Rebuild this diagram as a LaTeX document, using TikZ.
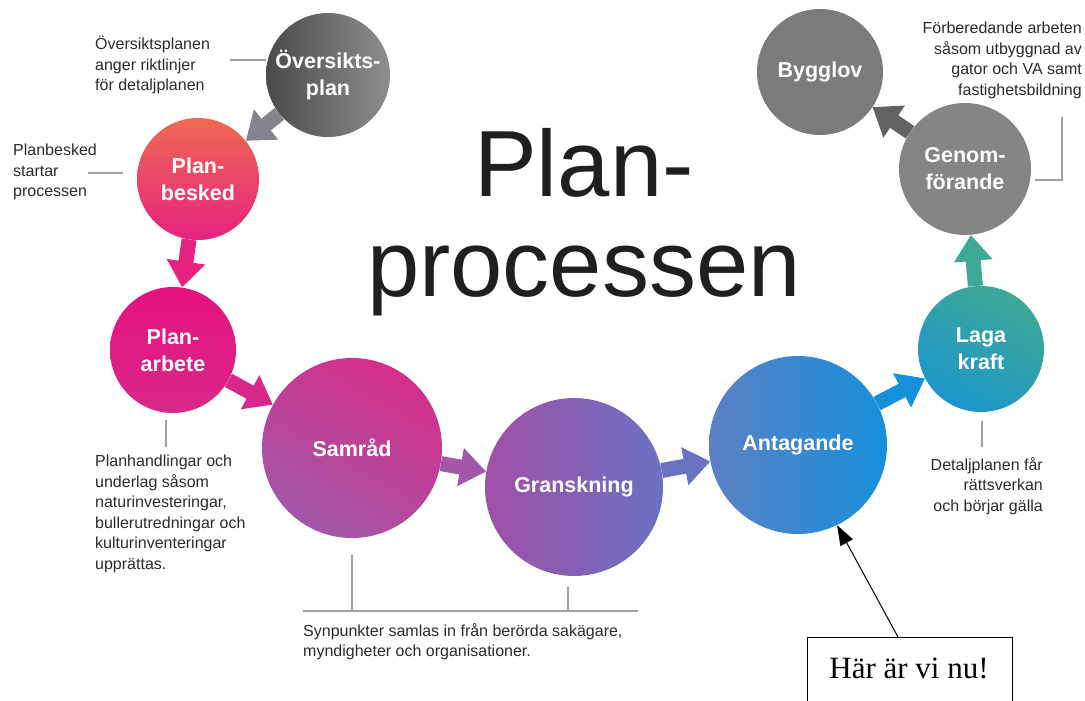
\documentclass[tikz,border=0pt]{standalone}
\usepackage{fontspec}
\setmainfont{Liberation Sans}
\newfontfamily\boxserif{Liberation Serif}
\usetikzlibrary{arrows.meta}

\definecolor{ovA}{HTML}{4A4A4A}
\definecolor{ovB}{HTML}{8E8E8E}
\definecolor{pbA}{HTML}{EE6A52}
\definecolor{pbB}{HTML}{E62280}
\definecolor{paA}{HTML}{E6127E}
\definecolor{paB}{HTML}{D8288A}
\definecolor{saA}{HTML}{D42E8A}
\definecolor{saB}{HTML}{A257A8}
\definecolor{grA}{HTML}{A04FA6}
\definecolor{grB}{HTML}{6A72C2}
\definecolor{anA}{HTML}{5C80C4}
\definecolor{anB}{HTML}{1690DA}
\definecolor{lkA}{HTML}{3EA896}
\definecolor{lkB}{HTML}{1C96CC}
\definecolor{geC}{HTML}{858585}
\definecolor{byC}{HTML}{7C7C7C}
\definecolor{arOv}{HTML}{84848C}
\definecolor{arGe}{HTML}{626262}
\definecolor{noteC}{HTML}{2A2A2A}
\definecolor{leadC}{HTML}{A0A0A0}

\begin{document}
\begin{tikzpicture}[x=1pt,y=-1pt,
  stage/.style={circle, minimum size=#1, inner sep=0pt, text=white,
    font=\fontsize{21.5}{27}\selectfont\bfseries, align=center},
  fat/.style={line width=15pt, draw=#1, fill=#1,
    -{Triangle[width=37pt,length=26pt]}},
  note/.style={font=\fontsize{16}{20.5}\selectfont, text=noteC, inner sep=0pt},
  lead/.style={draw=leadC, line width=1.2pt}]

\useasboundingbox (0,0) rectangle (1085,701);
\clip (0,0) rectangle (1085,701);

% title
\node[font=\fontsize{94}{100}\selectfont, text=black!88, align=center, inner sep=0pt]
  (title) at (584,222) {Plan-\\processen};

% stages of the process
\node[stage=124, left color=ovA, right color=ovB] (ov) at (328,75) {Översikts-\\plan};
\node[stage=122, top color=pbA, bottom color=pbB] (pb) at (198,179) {Plan-\\besked};
\node[stage=126, top color=paA, bottom color=paB] (pa) at (173,350) {Plan-\\arbete};
\node[stage=180, top color=saA, bottom color=saB, shading angle=-30] (sa) at (352,448) {Samråd};
\node[stage=178, left color=grA, right color=grB] (gr) at (574,487) {Granskning};
\node[stage=178, left color=anA, right color=anB] (an) at (798,445) {Antagande};
\node[stage=126, top color=lkA, bottom color=lkB, shading angle=-30] (lk) at (981,349) {Laga\\kraft};
\node[stage=132, fill=geC] (ge) at (965,169) {Genom-\\förande};
\node[stage=126, fill=byC] (by) at (820,72) {Bygglov};

% arrows between the stages
\draw[fat=arOv] (ov) -- (pb);
\draw[fat=pbB] (pb) -- (pa);
\draw[fat=paB] (pa) -- (sa);
\draw[fat=saB] (sa) -- (gr);
\draw[fat=grB] (gr) -- (an);
\draw[fat=anB] (an) -- (lk);
\draw[fat=lkA] (lk) -- (ge);
\draw[fat=arGe] (ge) -- (by);

% notes and their leader lines
\node[note, align=left, anchor=north west] (n1) at (95,36)
  {Översiktsplanen\\anger riktlinjer\\för detaljplanen};
\coordinate (l1a) at (230,60);
\coordinate (l1b) at (266,60);
\draw[lead] (l1a) -- (l1b);

\node[note, align=left, anchor=north west] (n2) at (13,144)
  {Planbesked\\startar\\processen};
\coordinate (l2a) at (88,173);
\coordinate (l2b) at (123,173);
\draw[lead] (l2a) -- (l2b);

\coordinate (l3a) at (166,420);
\coordinate (l3b) at (166,447);
\draw[lead] (l3a) -- (l3b);
\node[note, align=left, anchor=north west] (n3) at (95,455)
  {Planhandlingar och\\underlag såsom\\naturinvesteringar,\\bullerutredningar och\\kulturinventeringar\\upprättas.};

\coordinate (b1) at (352,555);
\coordinate (b2) at (568,587);
\coordinate (bl) at (303,611);
\coordinate (br) at (638,611);
\draw[lead] (bl) -- (br);
\draw[lead] (b1) -- (b1 |- bl);
\draw[lead] (b2) -- (b2 |- bl);
\node[note, align=left, anchor=north west] (n4) at (303,623)
  {Synpunkter samlas in från berörda sakägare,\\myndigheter och organisationer.};

\coordinate (l5a) at (982,421);
\coordinate (l5b) at (982,447);
\draw[lead] (l5a) -- (l5b);
\node[note, align=right, anchor=north east] (n5) at (1043,457)
  {Detaljplanen får\\rättsverkan\\och börjar gälla};

\node[note, align=right, anchor=north east] (n6) at (1082,22)
  {Förberedande arbeten\\såsom utbyggnad av\\gator och VA samt\\fastighetsbildning};
\coordinate (l6a) at (1062,117);
\coordinate (l6b) at (1062,180);
\coordinate (l6c) at (1035,180);
\draw[lead] (l6a) -- (l6b) -- (l6c);

% call-out box pointing at the current stage
\node[draw=black, line width=0.8pt, fill=white, minimum width=205, minimum height=90,
  anchor=north west, inner sep=0pt, text height=0pt] (box) at (807,637) {};
\node[font=\boxserif\fontsize{31}{34}\selectfont, anchor=base, inner sep=0pt]
  (boxtext) at (909,678) {Här är vi nu!};
\coordinate (boxtop) at (898,637);
\draw[line width=1pt, -{Triangle[width=14pt,length=20pt]}] (boxtop) -- (an.-64);

\end{tikzpicture}
\end{document}
